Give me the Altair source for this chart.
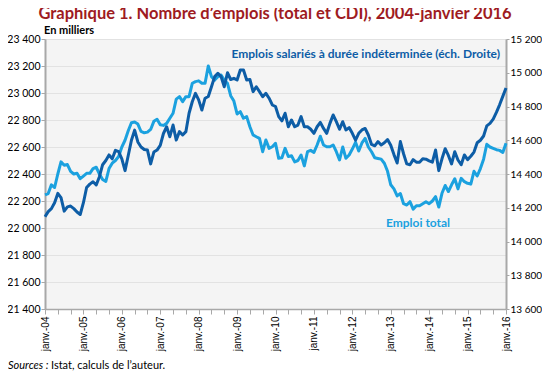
import json
import altair as alt
import pandas as pd

# Monthly index: 0 = janv. 2004 ... 144 = janv. 2016
months = list(range(145))

# Emploi total (milliers, échelle de gauche)
emploi_total = [
    22245, 22255, 22320, 22300, 22400, 22490, 22465, 22470, 22420, 22400, 22405, 22365,
    22385, 22405, 22405, 22440, 22450, 22400, 22360, 22345, 22440, 22480, 22500, 22530,
    22600, 22650, 22720, 22780, 22785, 22770, 22715, 22705, 22710, 22730, 22790, 22805,
    22765, 22760, 22775, 22813, 22850, 22955, 22973, 22936, 22973, 22973, 23072, 23084,
    23090, 23072, 23072, 23200, 23121, 23096, 23121, 23133, 23096, 23072, 22980, 22940,
    22845, 22862, 22813, 22825, 22750, 22689, 22676, 22664, 22565, 22652, 22590, 22602,
    22627, 22516, 22520, 22590, 22530, 22535, 22490, 22500, 22540, 22460, 22565, 22575,
    22560, 22615, 22680, 22615, 22602, 22602, 22615, 22565, 22504, 22600, 22516, 22541,
    22585, 22635, 22570, 22630, 22664, 22600, 22565, 22520, 22515, 22510, 22480, 22420,
    22320, 22290, 22238, 22255, 22180, 22170, 22195, 22140, 22165, 22165, 22180, 22195,
    22180, 22200, 22232, 22155, 22257, 22315, 22270, 22320, 22365, 22290, 22368, 22343,
    22331, 22325, 22420, 22385, 22440, 22510, 22620, 22600, 22590, 22580, 22575, 22560,
    22627,
]

# Emplois salariés à durée indéterminée (milliers, échelle de droite)
emploi_cdi = [
    14147, 14177, 14195, 14230, 14285, 14260, 14180, 14205, 14210, 14195, 14175, 14160,
    14230, 14320, 14340, 14354, 14335, 14384, 14455, 14480, 14513, 14490, 14540, 14532,
    14490, 14420, 14510, 14600, 14660, 14590, 14560, 14545, 14542, 14460, 14530, 14542,
    14570, 14640, 14680, 14621, 14690, 14601, 14651, 14631, 14651, 14760, 14828, 14878,
    14839, 14779, 14849, 14859, 14917, 14977, 14997, 14977, 14917, 15000, 14960, 14967,
    14957, 15016, 15016, 14957, 14960, 14888, 14917, 14888, 14858, 14878, 14849, 14809,
    14800, 14740, 14715, 14760, 14680, 14720, 14680, 14690, 14740, 14680, 14680, 14665,
    14641, 14680, 14706, 14670, 14641, 14700, 14750, 14710, 14665, 14710, 14661, 14675,
    14641, 14601, 14641, 14661, 14670, 14631, 14575, 14567, 14592, 14572, 14585, 14604,
    14570, 14515, 14465, 14592, 14520, 14460, 14455, 14485, 14470, 14470, 14490, 14488,
    14478, 14470, 14542, 14420, 14490, 14550, 14510, 14460, 14532, 14483, 14455, 14513,
    14485, 14505, 14530, 14585, 14600, 14625, 14685, 14700, 14725, 14765, 14810, 14860,
    14910,
]

tick_labels = ["janv.-04", "janv.-05", "janv.-06", "janv.-07", "janv.-08", "janv.-09",
               "janv.-10", "janv.-11", "janv.-12", "janv.-13", "janv.-14", "janv.-15",
               "janv.-16"]
x_ticks = list(range(0, 145, 4))
left_ticks = list(range(21400, 23401, 200))
right_ticks = list(range(13600, 15201, 200))

title_text = "Graphique 1. Nombre d\u2019emplois (total et CDI), 2004-janvier 2016"
unit_text = "En milliers"
cdi_label = "Emplois salariés à durée indéterminée (éch. Droite)"
total_label = "Emploi total"
source_italic = "Sources :"
source_text = "Istat, calculs de l\u2019auteur."

df = pd.DataFrame({"m": months, "total": emploi_total, "cdi": emploi_cdi})

LIGHT = "#1BA1DF"
DARK = "#0D5DA6"
GRAY = "#A8A8A8"
TITLE_RED = "#9E1B22"
FONT = "Lato"

thousands = "replace(format(datum.value, ','), ',', ' ')"
x_label_expr = (
    "datum.value % 12 == 0 ? " + json.dumps(tick_labels) + "[datum.value / 12] : ''"
)

x_axis = alt.Axis(
    values=x_ticks, labelExpr=x_label_expr, labelAngle=-90, title=None,
    labelFont="Liberation Sans", labelFontSize=10, labelColor="#000000",
    labelPadding=2, tickSize=5, tickColor=GRAY, tickWidth=1,
    domainColor=GRAY, domainWidth=1.5, grid=False, labelOverlap=False,
)
x_enc = alt.X("m:Q", scale=alt.Scale(domain=[0, 144], nice=False, zero=False), axis=x_axis)

base = alt.Chart(df)

total_line = base.mark_line(color=LIGHT, strokeWidth=3, strokeJoin="round").encode(
    x=x_enc,
    y=alt.Y(
        "total:Q",
        scale=alt.Scale(domain=[21400, 23400], nice=False, zero=False),
        axis=alt.Axis(
            orient="left", values=left_ticks, labelExpr=thousands, title=None,
            labelFont=FONT, labelFontSize=10.5, labelColor="#000000", labelPadding=1,
            tickSize=4, tickColor=GRAY, domainColor=GRAY, domainWidth=2,
            grid=True, gridColor="#E2E2E2", gridWidth=1,
        ),
    ),
)

cdi_line = base.mark_line(color=DARK, strokeWidth=3, strokeJoin="round").encode(
    x=x_enc,
    y=alt.Y(
        "cdi:Q",
        scale=alt.Scale(domain=[13600, 15200], nice=False, zero=False),
        axis=alt.Axis(
            orient="right", values=right_ticks, labelExpr=thousands, title=None,
            labelFont=FONT, labelFontSize=10, labelColor="#000000", labelPadding=1,
            tickSize=3, tickColor=GRAY, domainColor=GRAY, domainWidth=2, grid=False,
        ),
    ),
)


def label(text, x, y, color, size, weight="normal", style="normal", align="left",
          baseline="middle"):
    return alt.Chart(pd.DataFrame({"t": [text]})).mark_text(
        font=FONT, fontSize=size, fontWeight=weight, fontStyle=style,
        color=color, align=align, baseline=baseline,
    ).encode(text="t:N", x=alt.value(x), y=alt.value(y))


title_mark = label(title_text, 230, -20, TITLE_RED, 16.5, weight="bold", align="center",
                   baseline="alphabetic")
unit_mark = label(unit_text, -1, -8, "#000000", 11, weight="bold")
cdi_mark = label(cdi_label, 455, 15, DARK, 12, weight="bold", align="right")
total_mark = label(total_label, 373, 184, LIGHT, 12, weight="bold", align="center")
src1 = label(source_italic, -37, 327, "#000000", 11, style="italic")
src2 = label(source_text, 6, 327, "#000000", 11)

chart = (
    alt.layer(total_line, cdi_line, title_mark, unit_mark, cdi_mark, total_mark, src1, src2)
    .resolve_scale(y="independent")
    .properties(
        width=461, height=270,
        autosize=alt.AutoSizeParams(type="none"),
        padding={"left": 37, "top": 31, "right": 36, "bottom": 63},
        background="#FFFFFF",
    )
    .configure_view(fill="#F4F4F4", strokeWidth=0)
)

chart.save("out.html", embed_options={"renderer": "svg", "actions": False})
